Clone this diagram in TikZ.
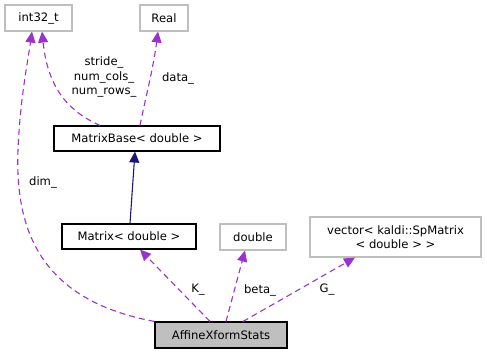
\documentclass[tikz,border=0pt]{standalone}
\usepackage{fontspec}
\setmainfont{DejaVu Sans}
\usetikzlibrary{arrows.meta}
\definecolor{edgepurple}{HTML}{9A32CD}
\definecolor{inhnavy}{HTML}{191970}
\definecolor{boxgrey}{HTML}{BFBFBF}
\begin{document}
\begin{tikzpicture}[x=1pt,y=-1pt,
  every node/.style={font=\fontsize{11.6}{14.5}\selectfont, inner sep=0pt},
  cls/.style={draw=black, fill=white, minimum height=25pt, line width=1.1pt},
  ext/.style={draw=boxgrey, fill=white, minimum height=26pt, line width=1.1pt},
  focus/.style={draw=black, fill=boxgrey, minimum height=26pt, line width=1.1pt},
  member/.style={draw=edgepurple, dashed, dash pattern=on 6pt off 4pt, line width=1.1pt,
    -{Triangle[length=11pt,width=10pt]}},
  inherit/.style={draw=inhnavy, line width=1.1pt, -{Triangle[length=11pt,width=10pt]}},
  lbl/.style={align=center}]
\useasboundingbox (0,0) rectangle (487,355);

% classes
\node[ext, minimum width=67pt] (int) at (38.5,18) {int32\_t};
\node[ext, minimum width=48pt] (real) at (164,18) {Real};
\node[cls, minimum width=166pt] (mbase) at (137,138.5) {MatrixBase< double >};
\node[cls, minimum width=134pt] (mat) at (129,236.5) {Matrix< double >};
\node[ext, minimum width=66pt] (dbl) at (253,237) {double};
\node[ext, minimum width=171pt, minimum height=40pt, align=center] (vec) at (395.5,237)
  {vector< kaldi::SpMatrix\\< double > >};
\node[focus, minimum width=132pt] (stats) at (221,335) {AffineXformStats};

% edges
\draw[inherit] (mat.north -| 130,0) -- (mbase.south -| 135,0);
\draw[member] (mbase.north -| 100,0) .. controls (70,112) and (48,90) .. (int.south -| 42,0);
\draw[member] (mbase.north -| 140,0) .. controls (145,100) and (153,70) .. (real.south -| 158,0);
\draw[member] (stats.north west) .. controls (40,300) and (15,230) .. (18,150)
  .. controls (20,100) and (28,60) .. (int.south -| 32,0);
\draw[member] (stats.north -| 210,0) -- (mat.south -| 140,0);
\draw[member] (stats.north -| 226,0) -- (dbl.south -| 245,0);
\draw[member] (stats.north -| 243,0) -- (vec.south -| 355,0);

% edge labels
\node[lbl] (lstride) at (104,77) {stride\_\\num\_cols\_\\num\_rows\_};
\node[lbl] (ldata) at (178,78) {data\_};
\node[lbl] (ldim) at (43,182) {dim\_};
\node[lbl] (lk) at (198,290) {K\_};
\node[lbl] (lbeta) at (260,290) {beta\_};
\node[lbl] (lg) at (327,290) {G\_};
\end{tikzpicture}
\end{document}
